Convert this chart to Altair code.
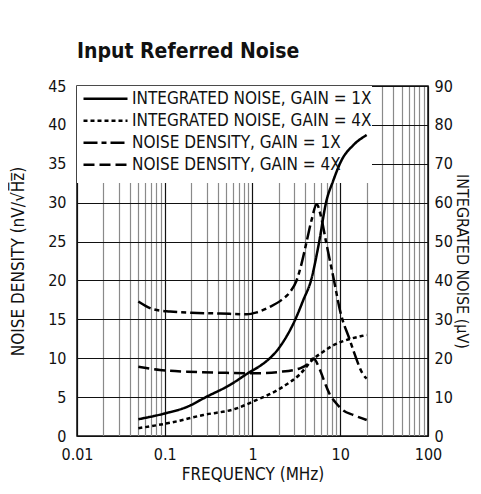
import altair as alt
import pandas as pd

# ---- data ----
nd1_freq = [0.05, 0.074, 0.115, 0.2, 0.43, 0.86, 1.12, 1.58, 2.15, 2.67, 3.18, 3.63, 4.14, 4.72, 5.39, 5.98, 6.88, 8.49, 10.0, 12.9, 14.1, 19.1, 20]
nd1_val = [17.3, 16.3, 16.0, 15.85, 15.75, 15.65, 15.9, 16.6, 17.5, 18.5, 20.0, 22.2, 25.0, 27.8, 29.8, 28.4, 25.0, 20.0, 16.0, 12.3, 11.0, 7.6, 7.4]

nd4_freq = [0.05, 0.088, 0.18, 0.43, 1.0, 2.06, 3.48, 4.33, 4.93, 5.88, 6.7, 7.64, 8.7, 10.8, 14.1, 20]
nd4_val = [8.9, 8.5, 8.27, 8.14, 8.06, 8.25, 8.7, 9.3, 9.95, 8.5, 6.8, 5.3, 4.4, 3.3, 2.7, 2.05]

in1_freq = [0.05, 0.096, 0.18, 0.3, 0.55, 0.94, 1.16, 2.06, 3.05, 3.8, 4.64, 5.76, 6.88, 8.3, 10.4, 14.1, 20]
in1_val = [4.3, 5.7, 7.5, 10.1, 13.1, 16.5, 17.7, 23.0, 29.8, 35.0, 40.0, 50.0, 60.0, 65.6, 71.0, 74.8, 77.4]

in4_freq = [0.05, 0.115, 0.275, 0.66, 1.0, 2.24, 3.48, 4.93, 6.14, 7.98, 10.8, 17.5, 20]
in4_val = [2.0, 3.4, 5.4, 7.1, 8.8, 12.7, 15.9, 19.8, 21.4, 23.1, 24.4, 25.7, 26.0]

series_names = [
    "INTEGRATED NOISE, GAIN = 1X",
    "INTEGRATED NOISE, GAIN = 4X",
    "NOISE DENSITY, GAIN = 1X",
    "NOISE DENSITY, GAIN = 4X",
]
dash_patterns = [[1, 0], [4, 3], [14, 4, 5, 4], [11, 5]]

x_grid_values = [m * d for d in [0.01, 0.1, 1, 10] for m in range(1, 10)] + [100]
left_ticks = [0, 5, 10, 15, 20, 25, 30, 35, 40, 45]
right_ticks = [0, 10, 20, 30, 40, 50, 60, 70, 80, 90]

density = pd.concat([
    pd.DataFrame({"freq": nd1_freq, "value": nd1_val, "series": series_names[2]}),
    pd.DataFrame({"freq": nd4_freq, "value": nd4_val, "series": series_names[3]}),
])
integrated = pd.concat([
    pd.DataFrame({"freq": in1_freq, "value": in1_val, "series": series_names[0]}),
    pd.DataFrame({"freq": in4_freq, "value": in4_val, "series": series_names[1]}),
])

FONT = "DejaVu Sans Condensed, Roboto, sans-serif"
major = "abs(log(datum.value)/LN10 - round(log(datum.value)/LN10)) < 0.001"

x_enc = alt.X(
    "freq:Q",
    scale=alt.Scale(type="log", domain=[0.01, 100], nice=False),
    axis=alt.Axis(
        title="FREQUENCY (MHz)",
        values=x_grid_values,
        labelExpr=f"({major}) ? format(datum.value, '~g') : ''",
        grid=True,
        gridColor={"condition": {"test": major, "value": "#111111"}, "value": "#8a8a8a"},
        gridWidth=1.2,
        ticks=False,
        domain=False,
        labelFlush=False,
        labelOverlap=False,
        labelPadding=10,
        titlePadding=4,
    ),
)

stroke_dash = alt.StrokeDash(
    "series:N",
    scale=alt.Scale(domain=series_names, range=dash_patterns),
    legend=alt.Legend(
        title=None,
        orient="none",
        legendX=0,
        legendY=-3,
        padding=5,
        symbolType="stroke",
        symbolSize=1936,
        symbolStrokeWidth=2.5,
        symbolStrokeColor="black",
        labelFont=FONT,
        labelFontSize=17,
        labelColor="#111111",
        labelLimit=400,
        labelOffset=3,
        clipHeight=21.7,
        rowPadding=0,
    ),
)

# white panel behind the legend (covers the grid, lines stay on top)
legend_bg = alt.Chart(pd.DataFrame({"k": [0]})).mark_rect(color="white").encode(
    x=alt.value(0), x2=alt.value(295), y=alt.value(0), y2=alt.value(97)
)

left = alt.Chart(density).mark_line(strokeWidth=2.5, color="black", interpolate="monotone").encode(
    x=x_enc,
    y=alt.Y(
        "value:Q",
        scale=alt.Scale(domain=[0, 45], nice=False),
        axis=alt.Axis(
            title="NOISE DENSITY (nV/√H\u0305z\u0305)",
            values=left_ticks,
            grid=True,
            gridColor="#111111",
            ticks=False,
            domain=False,
            labelFlush=False,
            labelPadding=11,
            titlePadding=20,
        ),
    ),
    strokeDash=stroke_dash,
)

right = alt.Chart(integrated).mark_line(strokeWidth=2.5, color="black", interpolate="monotone").encode(
    x=x_enc,
    y=alt.Y(
        "value:Q",
        scale=alt.Scale(domain=[0, 90], nice=False),
        axis=alt.Axis(
            title="INTEGRATED NOISE (µV)",
            orient="right",
            values=right_ticks,
            grid=False,
            ticks=False,
            domain=False,
            labelFlush=False,
            labelPadding=6,
            titlePadding=1,
            titleAngle=90,
            titleFontSize=16,
        ),
    ),
    strokeDash=stroke_dash,
)

chart = (
    alt.layer(left, legend_bg, right)
    .resolve_scale(y="independent")
    .properties(
        width=351,
        height=350,
        autosize=alt.AutoSizeParams(type="none"),
        padding={"left": 69, "top": 78, "right": 45, "bottom": 50},
        title=alt.TitleParams(
            "Input Referred Noise",
            anchor="start",
            frame="group",
            font=FONT,
            fontSize=21,
            fontWeight="bold",
            color="#111111",
            offset=16,
        ),
    )
    .configure_view(stroke="#111111", strokeWidth=1.5)
    .configure_axis(
        labelFont=FONT,
        labelFontSize=16,
        labelColor="#111111",
        titleFont=FONT,
        titleFontSize=17,
        titleFontWeight="normal",
        titleColor="#111111",
    )
)

chart.save("out.html", embed_options={"renderer": "svg", "actions": False})
